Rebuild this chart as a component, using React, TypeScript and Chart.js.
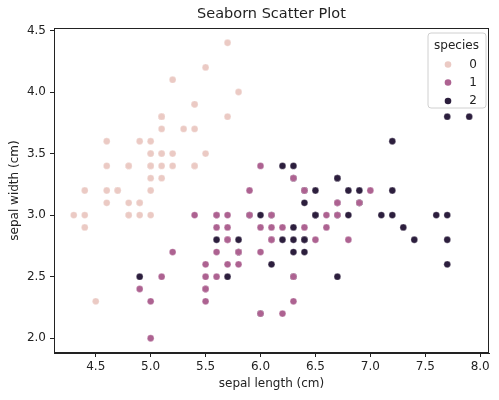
import React, { useEffect, useRef } from "react";
import { Chart, registerables } from "chart.js";

Chart.register(...registerables);

const setosaX = [5.1,4.9,4.7,4.6,5.0,5.4,4.6,5.0,4.4,4.9,5.4,4.8,4.8,4.3,5.8,5.7,5.4,5.1,5.7,5.1,5.4,5.1,4.6,5.1,4.8,5.0,5.0,5.2,5.2,4.7,4.8,5.4,5.2,5.5,4.9,5.0,5.5,4.9,4.4,5.1,5.0,4.5,4.4,5.0,5.1,4.8,5.1,4.6,5.3,5.0];
const setosaY = [3.5,3.0,3.2,3.1,3.6,3.9,3.4,3.4,2.9,3.1,3.7,3.4,3.0,3.0,4.0,4.4,3.9,3.5,3.8,3.8,3.4,3.7,3.6,3.3,3.4,3.0,3.4,3.5,3.4,3.2,3.1,3.4,4.1,4.2,3.1,3.2,3.5,3.6,3.0,3.4,3.5,2.3,3.2,3.5,3.8,3.0,3.8,3.2,3.7,3.3];
const versicolorX = [7.0,6.4,6.9,5.5,6.5,5.7,6.3,4.9,6.6,5.2,5.0,5.9,6.0,6.1,5.6,6.7,5.6,5.8,6.2,5.6,5.9,6.1,6.3,6.1,6.4,6.6,6.8,6.7,6.0,5.7,5.5,5.5,5.8,6.0,5.4,6.0,6.7,6.3,5.6,5.5,5.5,6.1,5.8,5.0,5.6,5.7,5.7,6.2,5.1,5.7];
const versicolorY = [3.2,3.2,3.1,2.3,2.8,2.8,3.3,2.4,2.9,2.7,2.0,3.0,2.2,2.9,2.9,3.1,3.0,2.7,2.2,2.5,3.2,2.8,2.5,2.8,2.9,3.0,2.8,3.0,2.9,2.6,2.4,2.4,2.7,2.7,3.0,3.4,3.1,2.3,3.0,2.5,2.6,3.0,2.6,2.3,2.7,3.0,2.9,2.9,2.5,2.8];
const virginicaX = [6.3,5.8,7.1,6.3,6.5,7.6,4.9,7.3,6.7,7.2,6.5,6.4,6.8,5.7,5.8,6.4,6.5,7.7,7.7,6.0,6.9,5.6,7.7,6.3,6.7,7.2,6.2,6.1,6.4,7.2,7.4,7.9,6.4,6.3,6.1,7.7,6.3,6.4,6.0,6.9,6.7,6.9,5.8,6.8,6.7,6.7,6.3,6.5,6.2,5.9];
const virginicaY = [3.3,2.7,3.0,2.9,3.0,3.0,2.5,2.9,2.5,3.6,3.2,2.7,3.0,2.5,2.8,3.2,3.0,3.8,2.6,2.2,3.2,2.8,2.8,2.7,3.3,3.2,2.8,3.0,2.8,3.0,2.8,3.8,2.8,2.8,2.6,3.0,3.4,3.1,3.0,3.1,3.1,3.1,2.7,3.2,3.3,3.0,2.5,3.0,3.4,3.0];

const speciesLabels = ["0", "1", "2"];
const speciesColors = ["#ebcac4", "#ad6291", "#2c1e3d"];
const xTicks = [4.5, 5.0, 5.5, 6.0, 6.5, 7.0, 7.5, 8.0];
const yTicks = [2.0, 2.5, 3.0, 3.5, 4.0, 4.5];

const FONT = "'DejaVu Sans', sans-serif";

const toPoints = (xs: number[], ys: number[]) => xs.map((x, i) => ({ x, y: ys[i] }));

const decorPlugin = {
  id: "decor",
  afterDraw(chart: any) {
    const { ctx, chartArea } = chart;
    const { left, right, top, bottom } = chartArea;
    ctx.save();
    ctx.strokeStyle = "#222";
    ctx.lineWidth = 1;
    ctx.strokeRect(left + 0.5, top + 0.5, right - left - 1, bottom - top - 1);
    ctx.fillStyle = "#222";
    ctx.font = `14.5px ${FONT}`;
    ctx.textAlign = "center";
    ctx.textBaseline = "middle";
    ctx.fillText("Seaborn Scatter Plot", (left + right) / 2, 14);
    ctx.font = `12px ${FONT}`;
    ctx.fillText("sepal length (cm)", (left + right) / 2, 384);
    ctx.save();
    ctx.translate(15, (top + bottom) / 2);
    ctx.rotate(-Math.PI / 2);
    ctx.fillText("sepal width (cm)", 0, 0);
    ctx.restore();
    const lx = 428, ly = 33, lw = 58, lh = 75, r = 3;
    ctx.beginPath();
    ctx.moveTo(lx + r, ly);
    ctx.lineTo(lx + lw - r, ly);
    ctx.quadraticCurveTo(lx + lw, ly, lx + lw, ly + r);
    ctx.lineTo(lx + lw, ly + lh - r);
    ctx.quadraticCurveTo(lx + lw, ly + lh, lx + lw - r, ly + lh);
    ctx.lineTo(lx + r, ly + lh);
    ctx.quadraticCurveTo(lx, ly + lh, lx, ly + lh - r);
    ctx.lineTo(lx, ly + r);
    ctx.quadraticCurveTo(lx, ly, lx + r, ly);
    ctx.closePath();
    ctx.fillStyle = "rgba(255,255,255,0.8)";
    ctx.fill();
    ctx.strokeStyle = "#d0d0d0";
    ctx.stroke();
    ctx.fillStyle = "#222";
    ctx.font = `12px ${FONT}`;
    ctx.fillText("species", 456.5, 46);
    const rows = [64.5, 82.5, 101];
    speciesLabels.forEach((lab, i) => {
      ctx.beginPath();
      ctx.arc(448, rows[i], 3.3, 0, Math.PI * 2);
      ctx.fillStyle = speciesColors[i];
      ctx.fill();
      ctx.fillStyle = "#222";
      ctx.textAlign = "center";
      ctx.fillText(lab, 473, rows[i]);
    });
    ctx.restore();
  },
};

export default function App() {
  const ref = useRef<HTMLCanvasElement>(null);
  useEffect(() => {
    document.body.style.margin = "0";
    const sets = [toPoints(setosaX, setosaY), toPoints(versicolorX, versicolorY), toPoints(virginicaX, virginicaY)];
    const chart = new Chart(ref.current!, {
      type: "scatter",
      data: {
        datasets: sets.map((d, i) => ({
          label: speciesLabels[i],
          data: d,
          backgroundColor: speciesColors[i],
          borderColor: "#ffffff",
          borderWidth: 0.3,
          pointRadius: 3.4,
        })),
      },
      options: {
        animation: false,
        responsive: false,
        devicePixelRatio: 1,
        layout: { padding: { top: 28, right: 10, left: 0, bottom: 0 } },
        plugins: { legend: { display: false }, tooltip: { enabled: false } },
        scales: {
          x: {
            type: "linear",
            min: 4.12,
            max: 8.08,
            afterBuildTicks: (s: any) => { s.ticks = xTicks.map((v) => ({ value: v })); },
            afterFit: (s: any) => { s.height = 47; },
            grid: { drawOnChartArea: false, drawTicks: true, tickLength: 4, tickColor: "#222" },
            border: { color: "#222" },
            ticks: {
              color: "#222",
              font: { family: FONT, size: 12 },
              padding: 3,
              maxRotation: 0,
              autoSkip: false,
              callback: (v: any) => Number(v).toFixed(1),
            },
          },
          y: {
            type: "linear",
            min: 1.88,
            max: 4.52,
            afterBuildTicks: (s: any) => { s.ticks = yTicks.map((v) => ({ value: v })); },
            afterFit: (s: any) => { s.width = 54; },
            grid: { drawOnChartArea: false, drawTicks: true, tickLength: 4, tickColor: "#222" },
            border: { color: "#222" },
            ticks: {
              color: "#222",
              font: { family: FONT, size: 12 },
              padding: 4,
              autoSkip: false,
              callback: (v: any) => Number(v).toFixed(1),
            },
          },
        },
      },
      plugins: [decorPlugin],
    });
    return () => chart.destroy();
  }, []);
  return (
    <div style={{ width: 499, height: 400, background: "#fff" }}>
      <canvas ref={ref} width={499} height={400} style={{ display: "block" }} />
    </div>
  );
}
